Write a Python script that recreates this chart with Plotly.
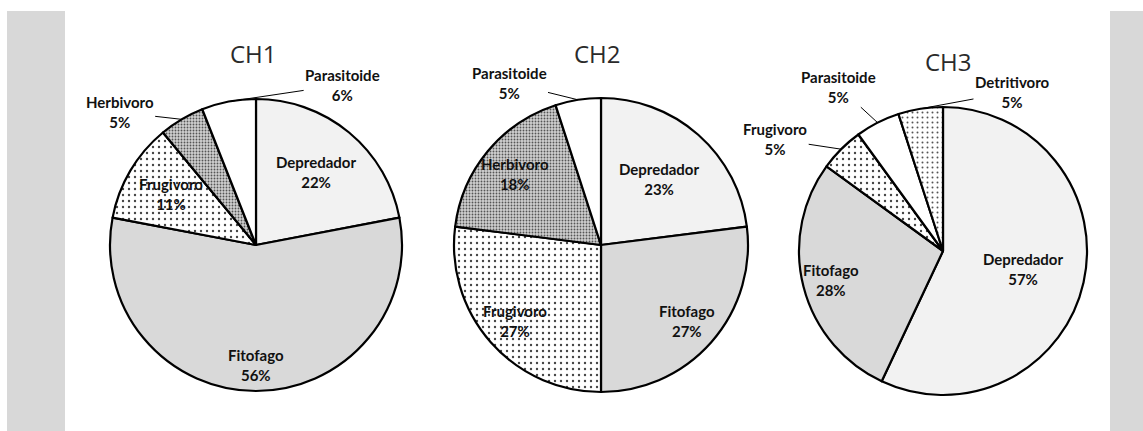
import math
import plotly.graph_objects as go

# ---------------- data ----------------
titles = ["CH1", "CH2", "CH3"]

ch1_labels = ["Depredador", "Fitofago", "Frugivoro", "Herbivoro", "Parasitoide"]
ch1_values = [22, 56, 11, 5, 6]

ch2_labels = ["Depredador", "Fitofago", "Frugivoro", "Herbivoro", "Parasitoide"]
ch2_values = [23, 27, 27, 18, 5]

ch3_labels = ["Depredador", "Fitofago", "Frugivoro", "Parasitoide", "Detritivoro"]
ch3_values = [57, 28, 5, 5, 5]

# ---------------- styles / layout ----------------
W, H = 1143, 431
FONT = "Lato"
LABEL_SIZE = 15

# pie geometry (pixel centre, radius)
geom = [(256, 245, 146), (601, 245, 147), (943, 251, 144)]
title_pos = [(253, 53), (598, 53), (948, 62)]

styles = {
    "Depredador": dict(color="#f2f2f2", shape="", fg="#000", size=8, sol=0.3),
    "Fitofago": dict(color="#d9d9d9", shape="", fg="#000", size=8, sol=0.3),
    "Frugivoro": dict(color="#ffffff", shape=".", fg="#444444", size=6, sol=0.12),
    "Herbivoro": dict(color="#d0d0d0", shape=".", fg="#555555", size=3, sol=0.3),
    "Parasitoide": dict(color="#ffffff", shape="", fg="#000", size=8, sol=0.3),
    "Detritivoro": dict(color="#ffffff", shape=".", fg="#555555", size=5, sol=0.12),
}

# label placement: inside -> radial fraction ; outside -> pixel offset from slice edge
label_place = [
    {"Depredador": 0.65, "Fitofago": 0.82, "Frugivoro": 0.68,
     "Herbivoro": (-62, -7), "Parasitoide": (114, -17)},
    {"Depredador": 0.6, "Fitofago": 0.78, "Frugivoro": 0.78,
     "Herbivoro": 0.76, "Parasitoide": (-69, -17)},
    {"Depredador": 0.57, "Fitofago": 0.8, "Frugivoro": (-66, -10),
     "Parasitoide": (-39, -36), "Detritivoro": (92, -17)},
]

charts = [(ch1_labels, ch1_values), (ch2_labels, ch2_values), (ch3_labels, ch3_values)]

fig = go.Figure()
annotations = []


def px2paper(x, y):
    return x / W, 1 - y / H


for i, ((labels, values), (cx, cy, r)) in enumerate(zip(charts, geom)):
    st = [styles[l] for l in labels]
    fig.add_trace(go.Pie(
        labels=labels,
        values=values,
        sort=False,
        direction="clockwise",
        rotation=0,
        textinfo="none",
        hoverinfo="label+percent",
        showlegend=False,
        domain=dict(x=[(cx - r) / W, (cx + r) / W],
                    y=[1 - (cy + r) / H, 1 - (cy - r) / H]),
        marker=dict(
            colors=[s["color"] for s in st],
            line=dict(color="#000000", width=2.2),
            pattern=dict(
                shape=[s["shape"] for s in st],
                fgcolor=[s["fg"] for s in st],
                bgcolor=[s["color"] for s in st],
                size=[s["size"] for s in st],
                solidity=[s["sol"] for s in st],
                fillmode="replace",
            ),
        ),
    ))

    # title
    tx, ty = px2paper(*title_pos[i])
    annotations.append(dict(
        x=tx, y=ty, xref="paper", yref="paper", text=titles[i], showarrow=False,
        font=dict(family="Open Sans", size=24, color="#2a2a2a"),
        xanchor="center", yanchor="middle"))

    total = sum(values)
    cum = 0
    for lab, val in zip(labels, values):
        mid = (cum + val / 2) / total * 2 * math.pi
        cum += val
        pct = round(val / total * 100)
        text = f"{lab}<br>{pct}%"
        place = label_place[i][lab]
        font = dict(family=FONT, size=LABEL_SIZE, color="#111111", weight="bold")
        if isinstance(place, tuple):
            ex = cx + r * math.sin(mid)
            ey = cy - r * math.cos(mid)
            px, py = px2paper(ex, ey)
            annotations.append(dict(
                x=px, y=py, xref="paper", yref="paper", text=text,
                showarrow=True, arrowhead=0, arrowwidth=1, arrowcolor="#000",
                ax=place[0], ay=place[1], standoff=0, font=font))
        else:
            lx = cx + r * place * math.sin(mid)
            ly = cy - r * place * math.cos(mid)
            px, py = px2paper(lx, ly)
            annotations.append(dict(
                x=px, y=py, xref="paper", yref="paper", text=text, showarrow=False,
                xanchor="center", yanchor="middle", font=font))

shapes = [
    dict(type="rect", xref="paper", yref="paper",
         x0=7 / W, x1=65 / W, y0=0, y1=1 - 11 / H,
         fillcolor="#d8d8d8", line=dict(width=0), layer="below"),
    dict(type="rect", xref="paper", yref="paper",
         x0=1110 / W, x1=1, y0=0, y1=1 - 11 / H,
         fillcolor="#d8d8d8", line=dict(width=0), layer="below"),
]

fig.update_layout(
    width=W, height=H,
    margin=dict(l=0, r=0, t=0, b=0),
    paper_bgcolor="#ffffff",
    plot_bgcolor="#ffffff",
    annotations=annotations,
    shapes=shapes,
)

fig.write_html(
    "out.html",
    config={"displayModeBar": False},
    post_script="document.body.style.margin='0';document.body.style.overflow='hidden';",
)
